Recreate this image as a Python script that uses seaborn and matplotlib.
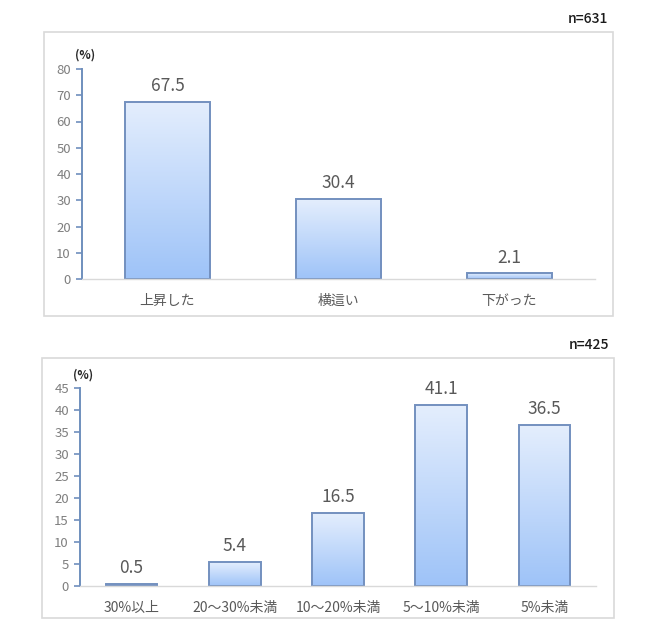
import numpy as np
import matplotlib
matplotlib.use('Agg')
import matplotlib.pyplot as plt
import seaborn as sns
import pandas as pd
from matplotlib.patches import Rectangle
from matplotlib.colors import LinearSegmentedColormap

# data
cats_top = ['上昇した', '横這い', '下がった']
vals_top = [67.5, 30.4, 2.1]
n_top = 'n=631'

cats_bot = ['30%以上', '20～30%未満', '10～20%未満', '5～10%未満', '5%未満']
vals_bot = [0.5, 5.4, 16.5, 41.1, 36.5]
n_bot = 'n=425'

sns.set_theme(style='white')
plt.rcParams['font.family'] = ['Noto Sans CJK JP', 'DejaVu Sans']

grad = LinearSegmentedColormap.from_list('g', ['#9ec3f8', '#e4eefd'])
edge = '#7390bf'
axcol = '#6f8fbd'


def draw_panel(fig, rect, box, cats, vals, ymax, ystep, ntext):
    # light frame around each chart
    fig.patches.append(Rectangle((box[0], box[1]), box[2], box[3], transform=fig.transFigure,
                                 fill=False, edgecolor='#d9d9d9', linewidth=1.2, zorder=0))
    ax = fig.add_axes(rect)
    df = pd.DataFrame({'cat': cats, 'val': vals})
    sns.barplot(data=df, x='cat', y='val', ax=ax, width=0.5, color='none',
                edgecolor=edge, linewidth=1.4, saturation=1)
    # gradient fill inside each bar
    g = np.linspace(0, 1, 256).reshape(-1, 1)
    for p in ax.patches:
        x0, y0 = p.get_x(), p.get_y()
        w, h = p.get_width(), p.get_height()
        im = ax.imshow(g, cmap=grad, origin='lower', aspect='auto',
                       extent=(x0, x0 + w, y0, y0 + h), zorder=1)
        im.set_clip_path(p)
        p.set_zorder(2)
    ax.set_xlim(-0.5, len(cats) - 0.5)
    ax.set_ylim(0, ymax)
    ax.bar_label(ax.containers[0], fmt='%.1f', padding=5, fontsize=12.5, color='#595959')
    ax.set_yticks(np.arange(0, ymax + 1, ystep))
    ax.set_xlabel('')
    ax.set_ylabel('')
    for s in ['top', 'right']:
        ax.spines[s].set_visible(False)
    ax.spines['left'].set_color(axcol)
    ax.spines['left'].set_linewidth(1.4)
    ax.spines['bottom'].set_color('#d9d9d9')
    ax.spines['bottom'].set_linewidth(1.0)
    ax.tick_params(axis='y', left=True, length=4, width=1.2, color=axcol,
                   labelsize=9.5, labelcolor='#7f7f7f', pad=4)
    ax.tick_params(axis='x', bottom=False, labelsize=10, labelcolor='#595959', pad=5)
    ax.text(-0.013, 1.035, '(%)', transform=ax.transAxes, fontsize=8.5,
            fontweight='bold', color='#262626', ha='left', va='bottom')
    fig.text(box[0] + box[2] - 0.008, box[1] + box[3] + 0.01, ntext, fontsize=10,
             fontweight='medium', color='#1a1a1a', ha='right', va='bottom')
    return ax


fig = plt.figure(figsize=(6.5, 6.36), dpi=100)
W, H = 650, 636

# top chart
draw_panel(fig,
           [82 / W, (H - 279) / H, 513 / W, 210 / H],
           (44 / W, (H - 316) / H, 569 / W, 284 / H),
           cats_top, vals_top, 80, 10, n_top)
# bottom chart
draw_panel(fig,
           [80 / W, (H - 586) / H, 516 / W, 198 / H],
           (42 / W, (H - 618) / H, 572 / W, 260 / H),
           cats_bot, vals_bot, 45, 5, n_bot)

fig.savefig('out.png', dpi=100, facecolor='white')
